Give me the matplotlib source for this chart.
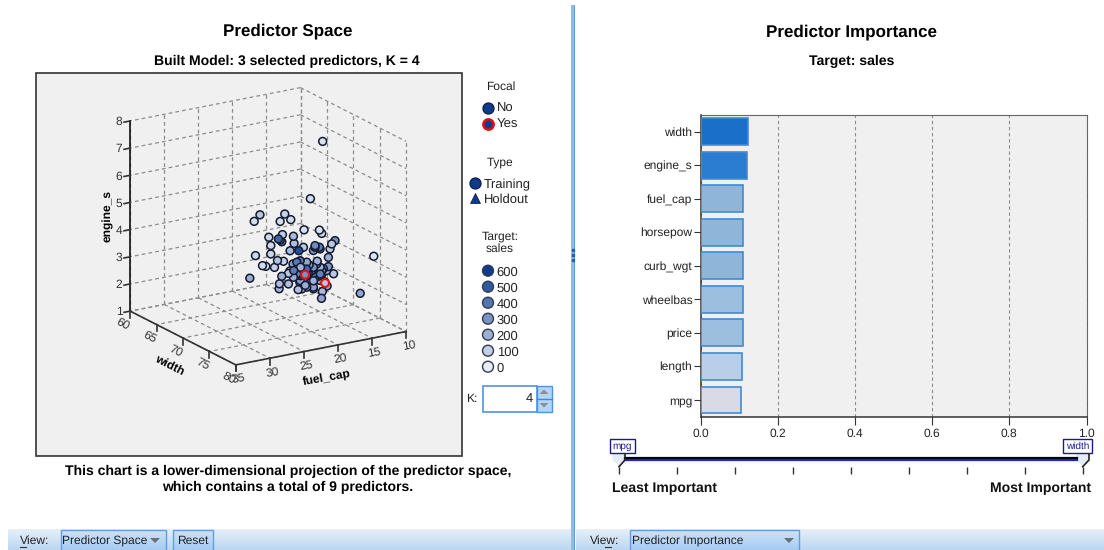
import numpy as np
import matplotlib
matplotlib.use("Agg")
import matplotlib.pyplot as plt
from matplotlib.colors import LinearSegmentedColormap, Normalize
from matplotlib.patches import Rectangle, Polygon
from mpl_toolkits.mplot3d import proj3d

plt.rcParams["font.family"] = ["Liberation Sans", "DejaVu Sans"]
plt.rcParams["text.hinting"] = "none"
plt.rcParams["text.hinting_factor"] = 1

W, H = 1104, 550

# pontos do grafico 3D
width_vals = [70, 70, 70, 70, 70, 70, 70, 70, 70, 70, 78, 76, 74, 70, 70, 70, 70, 70, 70, 70,
              70, 70, 70, 70, 70, 70, 70, 70, 70, 70, 70, 70, 70, 70, 70, 70, 70, 70, 70, 70, 70, 70,
              68, 72, 70, 68, 70, 72, 70, 70, 68, 70, 72, 70, 70, 70, 68, 70, 70, 72, 70, 70, 72, 68,
              70, 72, 70, 70, 68, 70, 72, 70, 70, 68, 70, 72, 70, 70, 70, 70, 70, 70,
              70, 70, 70, 70, 70, 70, 70, 70, 70, 70, 70, 70, 70, 70, 70, 70, 70, 70, 70]
fuel_vals = [14.5, 16.3, 23.7, 24.55, 20.06, 19.18, 20.74, 17.23, 14.98, 14.64, 13.2, 13.64, 17.77, 25.19,
             24.36, 23.33, 22.84, 21.57, 20.84, 20.89, 22.4, 20.4, 18.79, 20.74, 20.5, 22.11, 22.11, 21.13,
             20.25, 12.69, 18.01, 19.28, 18.69, 17.32, 15.62, 14.98, 13.42, 13.17, 13.66, 13.66, 20.5, 19.52,
             17.3, 20.3, 18.8, 16.3, 17.8, 19.3, 17.8, 17.8, 15.3, 16.84, 18.4, 16.84, 16.84, 16.84, 14.3,
             15.86, 15.86, 17.4, 15.86, 14.88, 16.4, 13.3, 14.88, 15.4, 13.91, 18.3, 16.8, 17.3, 18.6, 16.3,
             15.3, 13.0, 14.4, 16.1, 19.3, 18.1, 16.5, 15.1, 14.2, 12.9,
             18.06, 17.57, 17.08, 16.59, 16.1, 15.62, 17.32, 16.35, 17.81, 15.37, 14.64, 18.3, 15.86, 17.57,
             19.52, 15.62, 14.88, 15.86, 21.0]
engine_vals = [7.23, 5.21, 4.98, 4.78, 4.83, 4.58, 4.59, 4.11, 3.99, 3.85, 3.73, 2.19, 2.01, 2.72, 3.51,
               3.09, 3.04, 2.94, 2.30, 2.12, 4.09, 4.09, 3.95, 3.91, 3.83, 3.77, 3.46, 3.17, 3.10, 3.49,
               3.38, 3.44, 3.68, 3.47, 3.45, 3.36, 3.22, 3.39, 2.92, 2.58, 2.56, 2.62,
               2.66, 2.96, 2.44, 1.93, 3.0, 3.03, 2.51, 2.27, 1.76, 2.90, 2.92, 2.41, 2.16, 1.98, 2.39,
               2.66, 2.42, 2.44, 1.93, 2.62, 2.64, 1.86, 2.13, 2.15, 2.45, 2.97, 2.38, 2.62, 2.33, 2.21,
               2.86, 2.10, 2.54, 1.98, 2.70, 1.95, 2.78, 2.30, 2.05, 2.28,
               2.83, 2.63, 2.72, 2.46, 2.55, 2.29, 2.31, 2.20, 2.45, 2.76, 2.48, 2.54, 1.87, 1.95,
               2.23, 3.39, 3.29, 3.28, 3.96]
sales_vals = [40, 60, 130, 60, 90, 60, 60, 50, 50, 60, 30, 230, 240, 210, 70, 60, 50, 90, 160, 190,
              70, 110, 170, 380, 420, 70, 80, 140, 90, 300, 540, 170, 150, 120, 330, 380, 110, 120, 200, 280, 200, 130,
              240, 380, 210, 180, 400, 190, 420, 260, 170, 230, 450, 380, 500, 220, 190,
              300, 420, 190, 260, 170, 360, 150, 250, 220, 180, 390, 300, 170, 210, 340,
              190, 190, 360, 170, 140, 150, 280, 460, 230, 130,
              420, 500, 380, 540, 460, 400, 330, 520, 440, 310, 240, 360, 220, 240,
              150, 400, 330, 300, 460]
focal_fuel = [14.15, 17.08]
focal_width = [70, 70]
focal_engine = [2.0, 2.45]
focal_sales = [120, 300]

fuel_ticks = [10, 15, 20, 25, 30, 35]
width_ticks = [60, 65, 70, 75, 80]
engine_ticks = [1, 2, 3, 4, 5, 6, 7, 8]

# legenda
sales_legend = [600, 500, 400, 300, 200, 100, 0]
sales_colors = ["#e8eef5", "#c1cfe6", "#9fafd4", "#7c93c2", "#5577ad", "#2f5ca0", "#0f3b8c"]

# importancia dos preditores
predictors = ["width", "engine_s", "fuel_cap", "horsepow", "curb_wgt", "wheelbas", "price", "length", "mpg"]
importance = [0.122, 0.119, 0.1105, 0.1105, 0.1105, 0.1105, 0.1105, 0.108, 0.1045]
bar_colors = ["#1a6fc9", "#2a7dd1", "#8fb6d8", "#8fb6d8", "#8fb6d8", "#9dbfdf", "#9dbfdf", "#b9cfe8", "#d8dae6"]

cmap = LinearSegmentedColormap.from_list("sales", sales_colors)
norm = Normalize(0, 600)

fig = plt.figure(figsize=(W / 100, H / 100), dpi=100, facecolor="white")

# eixo de fundo em pixels para o texto e os controles
bg = fig.add_axes([0, 0, 1, 1], zorder=0)
bg.set_xlim(0, W)
bg.set_ylim(H, 0)
bg.axis("off")


def px_axes(x0, y0, x1, y1, **kw):
    return fig.add_axes([x0 / W, 1 - y1 / H, (x1 - x0) / W, (y1 - y0) / H], **kw)


grad = np.linspace(0, 1, 32).reshape(-1, 1)
bar_cmap = LinearSegmentedColormap.from_list("tb", ["#e6eff8", "#bcd7f2"])
btn_cmap = LinearSegmentedColormap.from_list("btn", ["#cfe2f7", "#a6ccf3"])
bg.imshow(grad, extent=(8, 571, 550, 529), cmap=bar_cmap, aspect="auto", zorder=1)
bg.imshow(grad, extent=(576, 1104, 550, 529), cmap=bar_cmap, aspect="auto", zorder=1)
bg.imshow(grad, extent=(61, 166, 550, 530), cmap=btn_cmap, aspect="auto", zorder=2)
bg.imshow(grad, extent=(630, 799, 550, 530), cmap=btn_cmap, aspect="auto", zorder=2)
bg.imshow(grad, extent=(173, 213, 550, 530), cmap=btn_cmap, aspect="auto", zorder=2)
bg.set_xlim(0, W)
bg.set_ylim(H, 0)
for x0, x1 in [(61, 166), (630, 799), (173, 213)]:
    bg.add_patch(Rectangle((x0, 530), x1 - x0, 22, fc="none", ec="#5f9fe0", lw=1, zorder=3))

bg.add_patch(Rectangle((570.5, 5), 4.5, 545, fc="#8fbbe8", ec="none", zorder=1))
bg.add_patch(Rectangle((574, 5), 1.2, 545, fc="#5f9bd8", ec="none", zorder=1))
for yy in [250, 255, 260]:
    bg.plot([572.7], [yy], "s", ms=1.6, color="#2f5f9f", zorder=3)

bg.add_patch(Rectangle((36, 72.5), 425.5, 383.5, fc="#f0f0f0", ec="#333333", lw=1.2, zorder=1))


def txt(x, y, s, size=8.4, weight="normal", ha="center", color="#222222", **kw):
    bg.text(x, y, s, fontsize=size, fontweight=weight, ha=ha, va="center", color=color, zorder=5, **kw)


txt(288, 31, "Predictor Space", 12.2, "bold", color="black")
txt(287, 61, "Built Model: 3 selected predictors, K = 4", 10, "bold", color="black")
txt(851, 32, "Predictor Importance", 12.2, "bold", color="black")
txt(851.5, 61, "Target: sales", 10, "bold", color="black")
txt(288, 471, "This chart is a lower-dimensional projection of the predictor space,", 10, "bold", color="black")
txt(288, 487, "which contains a total of 9 predictors.", 10, "bold", color="black")

txt(107.5, 216, "engine_s", 8.6, "bold", rotation=90, color="black")
txt(169, 365, "width", 8.6, "bold", rotation=-27, color="black")
txt(326.5, 378, "fuel_cap", 8.6, "bold", rotation=10, color="black")

# legendas
txt(500.5, 87, "Focal", 8.8)
bg.scatter([488], [108], s=62, c="#0f3b8c", edgecolors="#10204a", linewidths=1, zorder=4)
txt(496.5, 108.5, "No", 9, ha="left")
bg.scatter([488], [123.5], s=55, c="#0f3b8c", edgecolors="#e01010", linewidths=1.8, zorder=4)
txt(496.5, 124.5, "Yes", 9, ha="left")
txt(500.5, 162, "Type", 8.8)
bg.scatter([475], [182.5], s=62, c="#0f3b8c", edgecolors="#10204a", linewidths=1, zorder=4)
txt(484, 184.5, "Training", 9, ha="left")
bg.scatter([475], [198], s=50, c="#0f3b8c", marker="^", edgecolors="#10204a", linewidths=0.6, zorder=4)
txt(484, 200, "Holdout", 9, ha="left")
txt(500, 236, "Target:", 8.8)
txt(500, 249, "sales", 8.8)
legend_y = np.linspace(270.7, 366.7, len(sales_legend))
bg.scatter([488] * len(sales_legend), legend_y, s=62, c=sales_legend, cmap=cmap, norm=norm,
           edgecolors="#333a50", linewidths=1, zorder=4)
for v, yy in zip(sales_legend, legend_y):
    txt(496.7, yy + 1.5, str(v), 9, ha="left")

# K
txt(471.5, 399, "K:", 8.4)
bg.add_patch(Rectangle((483, 385.5), 53.5, 26, fc="white", ec="#4f94dd", lw=1.2, zorder=3))
bg.add_patch(Rectangle((536.5, 385.5), 15, 26, fc="#b5d5f5", ec="#4f94dd", lw=1, zorder=3))
bg.plot([536.5, 551.5], [398.5, 398.5], color="#3f88d8", lw=1, zorder=4)
bg.add_patch(Polygon([[539.5, 394], [548.5, 394], [544, 389.5]], fc="#8a8f96", ec="none", zorder=5))
bg.add_patch(Polygon([[539.5, 403], [548.5, 403], [544, 407.5]], fc="#8a8f96", ec="none", zorder=5))
txt(532.5, 399, "4", 9, ha="right")

# barra inferior
txt(20, 541, "View:", 8.4, ha="left")
txt(590, 541, "View:", 8.4, ha="left")
bg.plot([20, 26], [547, 547], color="#333333", lw=0.8, zorder=5)
bg.plot([605, 611], [547, 547], color="#333333", lw=0.8, zorder=5)
txt(62.5, 541, "Predictor Space", 8.4, ha="left")
bg.add_patch(Polygon([[150, 538], [160, 538], [155, 543]], fc="#6a6f76", ec="none", zorder=5))
txt(177, 541, "Reset", 8.4, ha="left")
txt(631.5, 541, "Predictor Importance", 8.4, ha="left")
bg.add_patch(Polygon([[784, 538], [794, 538], [789, 543]], fc="#6a6f76", ec="none", zorder=5))

# regua de importancia
slider_x = np.linspace(619, 1082.7, 9)
bg.vlines(slider_x, 466.7, 474, color="#333333", lw=1, zorder=4)
bg.add_patch(Polygon([[612.5, 453], [625, 453], [625, 460], [619, 466], [612.5, 460]], fc="#e4ecf6", ec="none", zorder=2))
bg.add_patch(Polygon([[1076, 453], [1089, 453], [1089, 460], [1082.7, 466], [1076, 460]], fc="#e4ecf6", ec="none", zorder=2))
bg.plot([624.5, 1076.5], [457.8, 457.8], color="black", lw=1.6, zorder=4)
bg.plot([624.5, 1076.5], [460.2, 460.2], color="#2020d0", lw=1.6, zorder=4)
bg.plot([619, 625, 625], [466.7, 460, 453], color="#222222", lw=1.2, zorder=4)
bg.plot([1082.7, 1089, 1089], [466.7, 460, 453], color="#222222", lw=1.2, zorder=4)
bg.add_patch(Rectangle((609.5, 439), 25.5, 13.5, fc="white", ec="#1a1a90", lw=1, zorder=5))
bg.add_patch(Rectangle((1063, 439), 29, 13.5, fc="white", ec="#1a1a90", lw=1, zorder=5))
bg.text(622.3, 446, "mpg", fontsize=7.4, color="#1a1a90", ha="center", va="center", zorder=6)
bg.text(1077.5, 446, "width", fontsize=7.4, color="#1a1a90", ha="center", va="center", zorder=6)
txt(611.5, 488.5, "Least Important", 10, "bold", ha="left", color="#111111")
txt(1091, 488.5, "Most Important", 10, "bold", ha="right", color="#111111")

# grafico de barras
ax = px_axes(700.7, 115, 1086.5, 416.7, zorder=2)
ax.set_facecolor("#f0f0f0")
ax.barh(predictors, importance, height=0.8, color=bar_colors, edgecolor="#3f8bd8", linewidth=1.2, zorder=3)
ax.set_xlim(0, 1)
ax.set_ylim(8.5, -0.5)
ax.set_xticks([0, 0.2, 0.4, 0.6, 0.8, 1.0])
ax.set_xticklabels(["0.0", "0.2", "0.4", "0.6", "0.8", "1.0"])
ax.tick_params(axis="x", length=6, width=0.8, color="#333333", labelsize=8.8, labelcolor="#222222", pad=2)
ax.tick_params(axis="y", length=5, width=0.8, color="#333333", labelsize=8.8, labelcolor="#222222", pad=1)
ax.xaxis.grid(True, color="#8c8c8c", ls=(0, (3, 2.5)), lw=0.8, zorder=1)
ax.set_axisbelow(True)
ax.spines["left"].set_color("#333333")
ax.spines["bottom"].set_color("#333333")
ax.spines["top"].set_color("#666666")
ax.spines["right"].set_color("#666666")
ax.spines["left"].set_linewidth(1.1)
ax.spines["bottom"].set_linewidth(1.1)

# grafico 3D em projecao ortografica
cx, cy, side = 263.6, 230.8, 337
ax3 = px_axes(cx - side / 2, cy - side / 2, cx + side / 2, cy + side / 2,
              projection="3d", zorder=3, computed_zorder=False)
ax3.patch.set_alpha(0)
ax3.set_proj_type("ortho")
ax3.view_init(elev=18.4, azim=58.2)
ax3.set_box_aspect((1, 1, 1))
ax3.set_xlim(10, 35)
ax3.set_ylim(60, 80)
ax3.set_zlim(1, 8)
ax3.set_axis_off()
ax3.apply_aspect()


def to_px(x, y, z):
    # projeta um ponto 3D para os pixels do eixo de fundo
    xp, yp, _ = proj3d.proj_transform(x, y, z, ax3.get_proj())
    dx, dy = ax3.transData.transform((xp, yp))
    return bg.transData.inverted().transform((dx, dy))


gkw = dict(color="#8c8c8c", ls=(0, (3, 2.5)), lw=0.9, zorder=1)
for f in fuel_ticks:
    ax3.plot([f, f], [60, 80], [1, 1], **gkw)
    ax3.plot([f, f], [60, 60], [1, 8], **gkw)
for w in width_ticks:
    ax3.plot([10, 35], [w, w], [1, 1], **gkw)
    ax3.plot([10, 10], [w, w], [1, 8], **gkw)
for e in engine_ticks:
    ax3.plot([10, 35], [60, 60], [e, e], **gkw)
    ax3.plot([10, 10], [60, 80], [e, e], **gkw)

akw = dict(color="#333333", lw=1.2, zorder=2)
ax3.plot([35, 35], [60, 60], [1, 8], color="#111111", lw=1.2, zorder=2)
ax3.plot([35, 35], [60, 80], [1, 1], **akw)
ax3.plot([10, 35], [80, 80], [1, 1], **akw)
for f in fuel_ticks:
    ax3.plot([f, f], [80, 80], [1, 0.76], **akw)
    px, py = to_px(f, 80, 1)
    txt(px + 2.5, py + 14, str(f), 8.8, rotation=10, color="#333333")
for w in width_ticks:
    ax3.plot([35, 35], [w, w], [1, 0.76], **akw)
    px, py = to_px(35, w, 1)
    txt(px - 7, py + 13, str(w), 8.8, rotation=-27, color="#333333")
for e in engine_ticks:
    ax3.plot([35, 35.9], [60, 60], [e, e], **akw)
    px, py = to_px(35, 60, e)
    txt(px - 11, py + 1, str(e), 8.8, color="#333333")

ax3.scatter(fuel_vals, width_vals, engine_vals, c=sales_vals, cmap=cmap, norm=norm, s=32,
            edgecolors="#141a30", linewidths=1.1, depthshade=False, zorder=3)
ax3.scatter(focal_fuel, focal_width, focal_engine, c=focal_sales, cmap=cmap, norm=norm, s=32,
            edgecolors="#e81010", linewidths=1.5, depthshade=False, zorder=4)

fig.savefig("out.png", dpi=100)
